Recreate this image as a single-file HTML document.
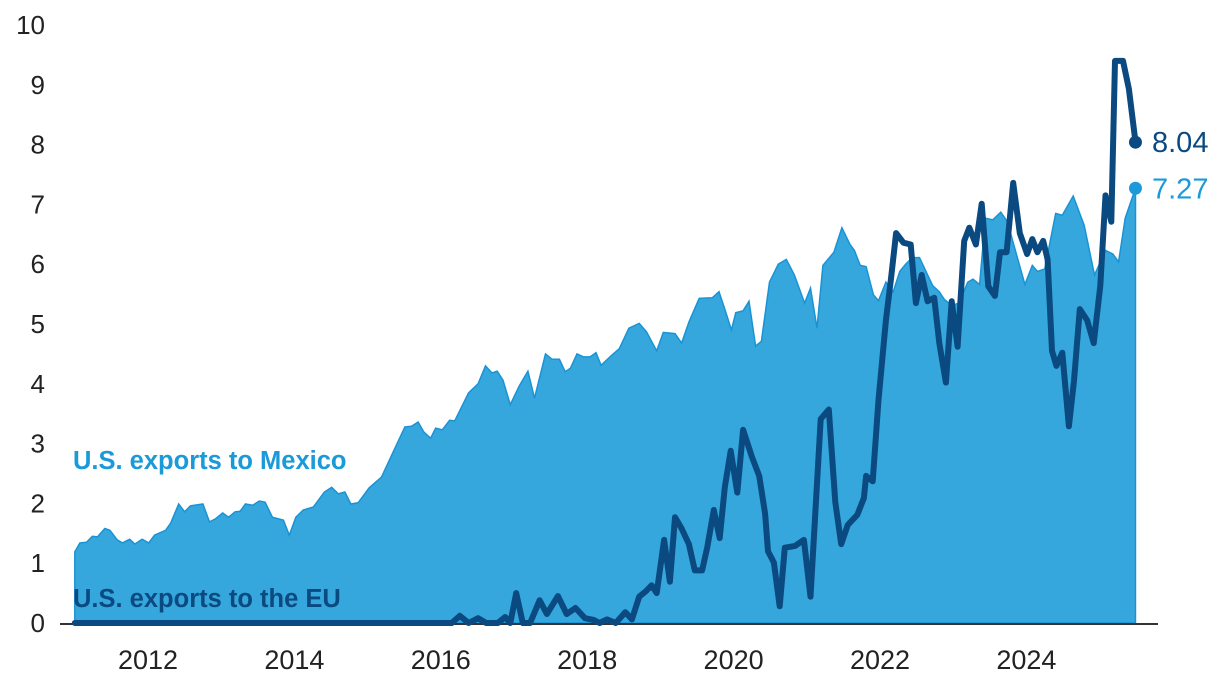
<!DOCTYPE html>
<html><head><meta charset="utf-8"><style>
body{margin:0;background:#fff;}
svg{display:block;font-family:"Liberation Sans",sans-serif;}
</style></head><body>
<svg id="chart" width="1220" height="676" viewBox="0 0 1220 676">
<g id="grid"></g><g id="marks"></g><g id="labels"></g>
</svg>
<script>
const yTicks=[0,1,2,3,4,5,6,7,8,9,10];
const xTicks=[2012,2014,2016,2018,2020,2022,2024];
const mexDates=[2011.00,2011.07,2011.16,2011.24,2011.31,2011.41,2011.48,2011.58,2011.65,2011.75,2011.82,2011.92,2012.01,2012.09,2012.24,2012.31,2012.42,2012.50,2012.58,2012.75,2012.84,2012.92,2013.02,2013.10,2013.19,2013.26,2013.33,2013.43,2013.52,2013.60,2013.70,2013.85,2013.93,2014.02,2014.12,2014.26,2014.41,2014.51,2014.60,2014.69,2014.77,2014.87,2015.02,2015.19,2015.36,2015.51,2015.60,2015.69,2015.77,2015.86,2015.93,2016.02,2016.12,2016.19,2016.38,2016.51,2016.61,2016.70,2016.77,2016.85,2016.95,2017.07,2017.19,2017.28,2017.43,2017.52,2017.62,2017.70,2017.77,2017.86,2017.95,2018.04,2018.12,2018.19,2018.32,2018.44,2018.57,2018.71,2018.81,2018.95,2019.04,2019.20,2019.29,2019.39,2019.53,2019.71,2019.80,2019.88,2019.97,2020.03,2020.13,2020.21,2020.30,2020.38,2020.49,2020.61,2020.72,2020.83,2020.97,2021.05,2021.14,2021.22,2021.37,2021.48,2021.59,2021.65,2021.73,2021.81,2021.91,2021.98,2022.08,2022.18,2022.27,2022.35,2022.44,2022.54,2022.64,2022.72,2022.81,2022.88,2022.98,2023.08,2023.20,2023.27,2023.36,2023.44,2023.54,2023.65,2023.74,2023.84,2023.98,2024.08,2024.15,2024.25,2024.40,2024.49,2024.64,2024.79,2024.93,2025.08,2025.18,2025.26,2025.35,2025.49];
const mexValues=[1.19,1.34,1.35,1.45,1.44,1.58,1.55,1.39,1.34,1.40,1.32,1.40,1.34,1.47,1.55,1.67,1.99,1.86,1.96,1.99,1.69,1.74,1.84,1.77,1.86,1.87,1.99,1.97,2.04,2.02,1.77,1.72,1.47,1.77,1.89,1.94,2.19,2.27,2.16,2.19,1.99,2.01,2.26,2.44,2.89,3.28,3.29,3.36,3.19,3.09,3.26,3.23,3.39,3.38,3.85,4.00,4.30,4.18,4.21,4.06,3.65,3.96,4.21,3.76,4.50,4.41,4.41,4.20,4.26,4.50,4.45,4.45,4.52,4.31,4.46,4.59,4.93,5.01,4.87,4.55,4.86,4.84,4.68,5.03,5.43,5.44,5.54,5.25,4.90,5.19,5.22,5.38,4.63,4.71,5.70,6.00,6.08,5.82,5.35,5.60,4.93,5.98,6.20,6.61,6.33,6.23,5.98,5.96,5.49,5.39,5.70,5.54,5.88,6.00,6.11,6.11,5.85,5.64,5.54,5.41,5.31,5.35,5.70,5.75,5.66,6.77,6.74,6.87,6.71,6.27,5.66,5.98,5.88,5.92,6.85,6.82,7.14,6.65,5.82,6.23,6.17,6.04,6.77,7.27];
const euDates=[2011.00,2016.15,2016.26,2016.38,2016.51,2016.62,2016.78,2016.88,2016.95,2017.03,2017.12,2017.22,2017.35,2017.45,2017.60,2017.72,2017.84,2017.97,2018.09,2018.17,2018.27,2018.39,2018.52,2018.61,2018.71,2018.80,2018.88,2018.95,2019.05,2019.13,2019.20,2019.29,2019.39,2019.47,2019.57,2019.64,2019.73,2019.81,2019.88,2019.96,2020.05,2020.13,2020.25,2020.35,2020.43,2020.47,2020.55,2020.63,2020.70,2020.84,2020.96,2021.05,2021.19,2021.30,2021.39,2021.47,2021.56,2021.69,2021.78,2021.81,2021.90,2021.98,2022.08,2022.15,2022.22,2022.32,2022.42,2022.49,2022.57,2022.65,2022.74,2022.81,2022.90,2022.98,2023.06,2023.15,2023.22,2023.31,2023.39,2023.48,2023.57,2023.64,2023.73,2023.82,2023.91,2024.01,2024.08,2024.15,2024.23,2024.29,2024.35,2024.41,2024.49,2024.58,2024.65,2024.73,2024.83,2024.92,2025.01,2025.08,2025.16,2025.21,2025.32,2025.40,2025.49];
const euValues=[0,0,0.12,0,0.08,0,0,0.1,0,0.5,0,0,0.38,0.15,0.45,0.15,0.25,0.08,0.05,0,0.06,0,0.18,0.06,0.44,0.53,0.63,0.50,1.39,0.69,1.77,1.58,1.32,0.88,0.88,1.26,1.89,1.42,2.27,2.88,2.18,3.23,2.78,2.46,1.83,1.20,1.01,0.28,1.26,1.29,1.39,0.44,3.41,3.57,2.02,1.32,1.64,1.81,2.09,2.46,2.37,3.73,5.06,5.76,6.52,6.36,6.33,5.35,5.82,5.38,5.44,4.68,4.02,5.38,4.62,6.39,6.61,6.33,7.01,5.63,5.47,6.20,6.20,7.36,6.52,6.17,6.42,6.20,6.39,6.08,4.55,4.30,4.52,3.29,4.05,5.25,5.06,4.68,5.64,7.15,6.71,9.40,9.40,8.93,8.04];
const NS='http://www.w3.org/2000/svg';
function X(d){return 148+(d-2012)*73.2;}
function Y(v){return 623-v*59.8;}
function mk(tag,attrs,parent){const e=document.createElementNS(NS,tag);for(const k in attrs)e.setAttribute(k,attrs[k]);parent.appendChild(e);return e;}
const grid=document.getElementById('grid'),marks=document.getElementById('marks'),labels=document.getElementById('labels');
yTicks.forEach(t=>{const e=mk('text',{x:45,y:Y(t)+9,'text-anchor':'end','font-size':26,fill:'#222'},labels);e.textContent=t;

});
xTicks.forEach(t=>{const e=mk('text',{x:X(t),y:669,'text-anchor':'middle','font-size':27,fill:'#222'},labels);e.textContent=t;

});
let d='M'+X(mexDates[0])+','+Y(0);
mexDates.forEach((t,i)=>{d+=' L'+X(t).toFixed(1)+','+Y(mexValues[i]).toFixed(1);});
d+=' L'+X(mexDates[mexDates.length-1])+','+Y(0)+' Z';
const area=mk('path',{d:d,fill:'#35a7dd',stroke:'#1a93d5','stroke-width':1.5},marks);


const ax=mk('line',{x1:60,y1:624,x2:1158,y2:624,stroke:'#333','stroke-width':2},marks);


let d2='';
euDates.forEach((t,i)=>{d2+=(i?' L':'M')+X(t).toFixed(1)+','+Y(euValues[i]).toFixed(1);});
const eu=mk('path',{d:d2,fill:'none',stroke:'#0b4a80','stroke-width':6,'stroke-linejoin':'round','stroke-linecap':'round'},marks);


const le=euDates.length-1,lm=mexDates.length-1;
const c1=mk('circle',{cx:X(euDates[le]),cy:Y(euValues[le]),r:6.5,fill:'#0b4a80'},marks);


const c2=mk('circle',{cx:X(mexDates[lm]),cy:Y(mexValues[lm]),r:6.5,fill:'#1a9ad9'},marks);


const t1=mk('text',{x:1152,y:Y(euValues[le])+10,'font-size':29,fill:'#0b4a80'},labels);t1.textContent=euValues[le].toFixed(2);


const t2=mk('text',{x:1152,y:Y(mexValues[lm])+10,'font-size':29,fill:'#1a9ad9'},labels);t2.textContent=mexValues[lm].toFixed(2);


const l1=mk('text',{x:73,y:469,'font-size':25.5,'font-weight':'bold',fill:'#1a9ad9'},labels);l1.textContent='U.S. exports to Mexico';


const l2=mk('text',{x:73,y:607,'font-size':25.5,'font-weight':'bold',fill:'#0b4a80'},labels);l2.textContent='U.S. exports to the EU';


</script>
</body></html>
